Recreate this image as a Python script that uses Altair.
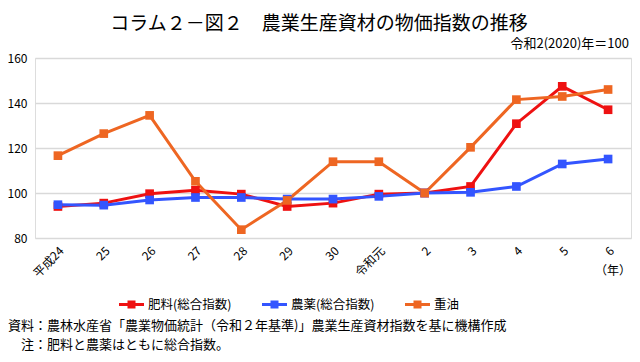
import altair as alt
import pandas as pd

years = ["平成24", "25", "26", "27", "28", "29", "30", "令和元", "2", "3", "4", "5", "6"]
series_names = ["肥料(総合指数)", "農薬(総合指数)", "重油"]
fertilizer = [94.0, 95.5, 99.7, 101.2, 99.5, 94.0, 95.5, 99.5, 100.0, 102.9, 130.8, 147.4, 137.0]
pesticide = [94.8, 94.6, 96.9, 98.0, 98.0, 97.3, 97.3, 98.5, 100.0, 100.3, 102.9, 112.9, 115.1]
heavy_oil = [116.6, 126.4, 134.5, 105.2, 83.7, 96.7, 113.9, 113.9, 100.0, 120.3, 141.5, 142.9, 146.0]
colors = ["#EE1111", "#3355FF", "#EE6622"]

rows = []
for name, vals in zip(series_names, [fertilizer, pesticide, heavy_oil]):
    for y, v in zip(years, vals):
        rows.append({"year": y, "series": name, "value": v})
df = pd.DataFrame(rows)

FONT = "Noto Sans CJK JP"
W, H = 596, 180

x_enc = alt.X("year:N", sort=years, scale=alt.Scale(type="point", padding=0.5),
              axis=alt.Axis(title=None, labelAngle=-45, labelFontSize=12, labelColor="#000",
                            labelFont=FONT, domain=False, ticks=False, grid=False, labelPadding=7))
y_enc = alt.Y("value:Q", scale=alt.Scale(domain=[80, 160], nice=False, zero=False),
              axis=alt.Axis(title=None, values=[80, 100, 120, 140, 160], labelFontSize=12,
                            labelColor="#000", labelFont=FONT, domain=False, ticks=False,
                            gridColor="#d9d9d9", gridWidth=1.5, labelPadding=8))
color_enc = alt.Color("series:N", sort=series_names,
                      scale=alt.Scale(domain=series_names, range=colors),
                      legend=alt.Legend(title=None, orient="none", direction="horizontal",
                                        legendX=90, legendY=240,
                                        symbolType="M-2.5,0L-0.5,0M0.5,0L2.5,0M-0.5,-0.5h1v1h-1zM-0.2,-0.2h0.4v0.4h-0.4z",
                                        symbolSize=100, symbolStrokeWidth=3,
                                        labelFontSize=12.5, labelFont=FONT, labelColor="#000",
                                        columnPadding=24, labelOffset=10))

base = alt.Chart(df)
lines = base.mark_line(strokeWidth=3).encode(x=x_enc, y=y_enc, color=color_enc)
points = base.mark_square(size=75, opacity=1, filled=True).encode(
    x=alt.X("year:N", sort=years), y="value:Q",
    color=alt.Color("series:N", sort=series_names, legend=None))

def txt(text, x, y, size=12, align="left", baseline="middle"):
    return alt.Chart(pd.DataFrame({"t": [text]})).mark_text(
        align=align, baseline=baseline, fontSize=size, font=FONT, color="#000"
    ).encode(text="t:N", x=alt.value(x), y=alt.value(y))

title = txt("コラム２－図２　農業生産資材の物価指数の推移", 284, -34, size=19, align="center")
unit = txt("令和2(2020)年＝100", 594, -14, size=13, align="right")
nen = txt("（年）", 578, 213, size=12, align="center")
note1 = txt("資料：農林水産省「農業物価統計（令和２年基準)」農業生産資材指数を基に機構作成", -27, 268, size=13)
note2 = txt("注：肥料と農薬はともに総合指数。", -14, 287, size=13)

chart = alt.layer(lines, points, title, unit, nen, note1, note2).properties(
    width=W, height=H,
    autosize=alt.AutoSizeParams(type="none"),
    padding={"left": 27, "top": 50, "right": 1, "bottom": 116},
).configure_view(stroke=None).configure(font=FONT)

chart.save("out.html", embed_options={"renderer": "svg", "actions": False})
